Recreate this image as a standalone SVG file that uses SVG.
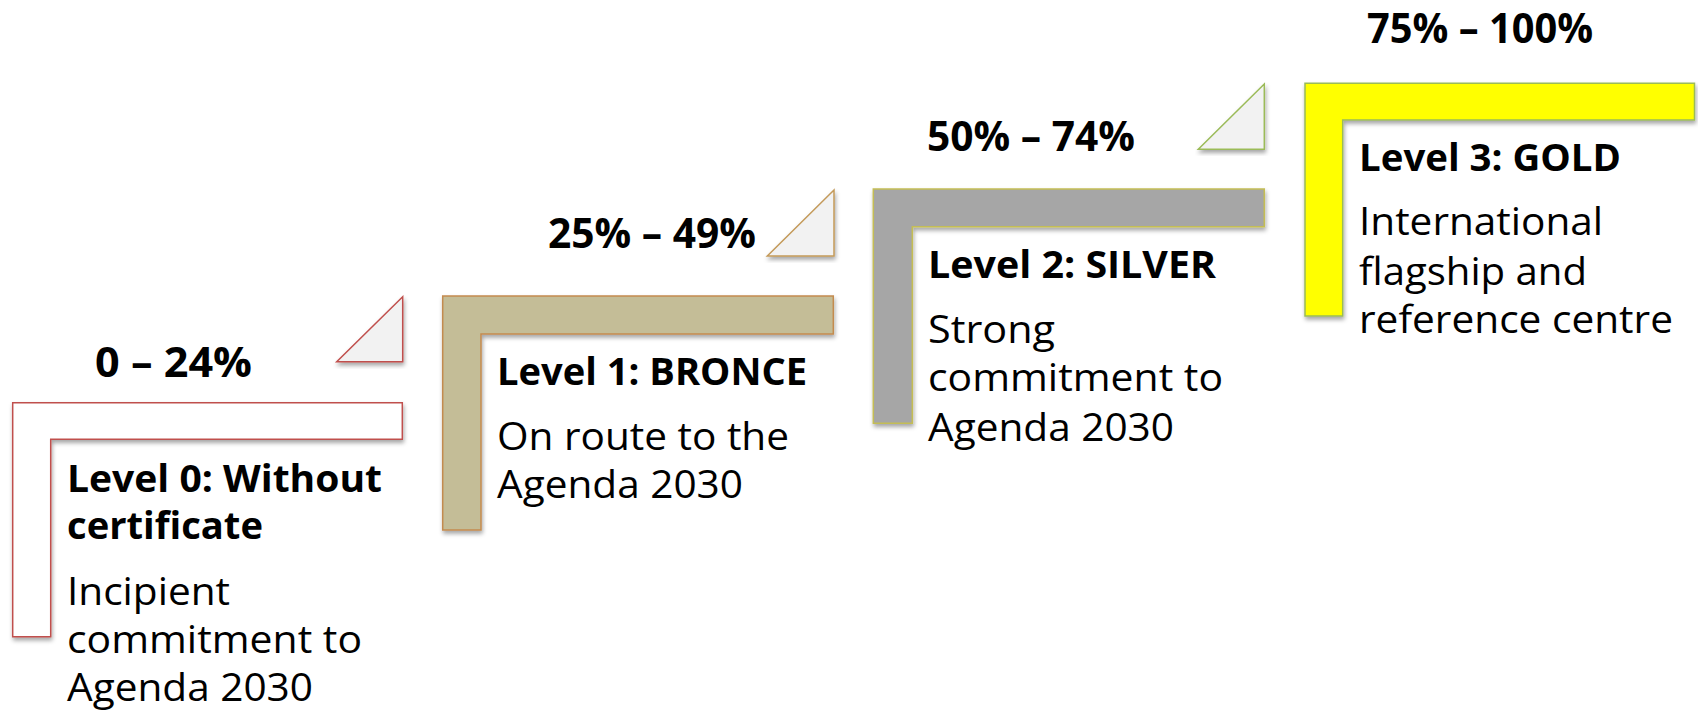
<svg xmlns="http://www.w3.org/2000/svg" width="1698" height="714" viewBox="0 0 1698 714">
<defs>
<filter id="sh" x="-5%" y="-5%" width="115%" height="115%">
<feDropShadow dx="1" dy="3" stdDeviation="2" flood-color="#000" flood-opacity="0.35"/>
</filter>
<style>
text{font-family:"Open Sans","Noto Sans","Liberation Sans",sans-serif;fill:#000}
.pct{font-size:41px;font-weight:700}
.hd{font-size:38px;font-weight:700}
.bd{font-size:39px;font-weight:400}
.tri{fill:#f2f2f2;stroke-width:1.5}
.ell{stroke-width:1.5}
</style>
</defs>
<g id="level0">
<polygon class="tri" points="402.7,296.7 336.7,361.7 402.7,361.7" stroke="#c0504d" filter="url(#sh)"/>
<text class="pct" x="95" y="377" textLength="157" lengthAdjust="spacingAndGlyphs">0 – 24%</text>
<path class="ell" d="M12.7,402.7 H402.3 V439.3 H50.7 V636.7 H12.7 Z" fill="#ffffff" stroke="#c0504d" filter="url(#sh)"/>
<text class="hd" x="67" y="492" textLength="315" lengthAdjust="spacingAndGlyphs">Level 0: Without</text>
<text class="hd" x="67" y="539" textLength="196" lengthAdjust="spacingAndGlyphs">certificate</text>
<text class="bd" x="67" y="605" textLength="163" lengthAdjust="spacingAndGlyphs">Incipient</text>
<text class="bd" x="67" y="653" textLength="295" lengthAdjust="spacingAndGlyphs">commitment to</text>
<text class="bd" x="67" y="701" textLength="246" lengthAdjust="spacingAndGlyphs">Agenda 2030</text>
</g>
<g id="level1">
<polygon class="tri" points="834,190 767.3,256 834,256" stroke="#c49a5a" filter="url(#sh)"/>
<text class="pct" x="548" y="248" textLength="208" lengthAdjust="spacingAndGlyphs">25% – 49%</text>
<path class="ell" d="M442.7,296 H833.3 V334 H481 V530 H442.7 Z" fill="#c4bd97" stroke="#c38b4f" filter="url(#sh)"/>
<text class="hd" x="497" y="385" textLength="310" lengthAdjust="spacingAndGlyphs">Level 1: BRONCE</text>
<text class="bd" x="497" y="450" textLength="292" lengthAdjust="spacingAndGlyphs">On route to the</text>
<text class="bd" x="497" y="498" textLength="246" lengthAdjust="spacingAndGlyphs">Agenda 2030</text>
</g>
<g id="level2">
<polygon class="tri" points="1264.3,84 1198.3,149.3 1264.3,149.3" stroke="#9bbb59" filter="url(#sh)"/>
<text class="pct" x="927" y="151" textLength="208" lengthAdjust="spacingAndGlyphs">50% – 74%</text>
<path class="ell" d="M873.3,189 H1264.3 V226.7 H912.3 V423.3 H873.3 Z" fill="#a6a6a6" stroke="#c4bd55" filter="url(#sh)"/>
<text class="hd" x="928" y="278" textLength="288" lengthAdjust="spacingAndGlyphs">Level 2: SILVER</text>
<text class="bd" x="928" y="343" textLength="127" lengthAdjust="spacingAndGlyphs">Strong</text>
<text class="bd" x="928" y="391" textLength="295" lengthAdjust="spacingAndGlyphs">commitment to</text>
<text class="bd" x="928" y="441" textLength="246" lengthAdjust="spacingAndGlyphs">Agenda 2030</text>
</g>
<g id="level3">
<text class="pct" x="1367" y="43" textLength="226" lengthAdjust="spacingAndGlyphs">75% – 100%</text>
<path class="ell" d="M1305,83.3 H1694.5 V120 H1342.7 V316 H1305 Z" fill="#ffff00" stroke="#9bbb59" filter="url(#sh)"/>
<text class="hd" x="1359" y="171" textLength="262" lengthAdjust="spacingAndGlyphs">Level 3: GOLD</text>
<text class="bd" x="1359" y="235" textLength="244" lengthAdjust="spacingAndGlyphs">International</text>
<text class="bd" x="1359" y="285" textLength="228" lengthAdjust="spacingAndGlyphs">flagship and</text>
<text class="bd" x="1359" y="333" textLength="314" lengthAdjust="spacingAndGlyphs">reference centre</text>
</g>
</svg>
